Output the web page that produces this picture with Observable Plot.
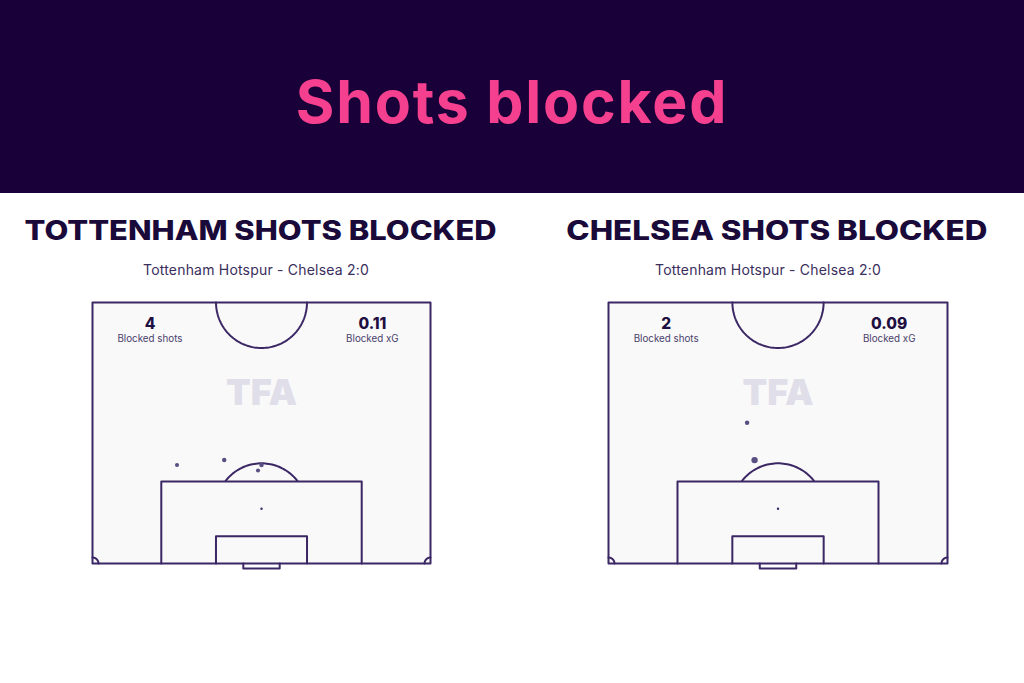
<!DOCTYPE html>
<html>
<head>
<meta charset="utf-8">
<script src="https://cdn.jsdelivr.net/npm/d3@7"></script>
<script src="https://cdn.jsdelivr.net/npm/@observablehq/plot@0.6"></script>
<style>
  html, body { margin: 0; padding: 0; background: #ffffff; }
  body { width: 1024px; height: 683px; position: relative; overflow: hidden; font-family: Inter, "Noto Sans", sans-serif; }
  #header { position: absolute; left: 0; top: 0; width: 1024px; height: 193px; background: #1a0038; }
  #title { position: absolute; left: 0; top: 62px; width: 1024px; text-align: center; color: #f5408f; font-family: Inter, sans-serif; font-weight: 700; font-size: 59px; line-height: 80px; letter-spacing: 1.8px; }
  .panel-title { position: absolute; text-align: center; color: #1a0a3a; font-family: Inter, sans-serif; font-weight: 800; font-size: 26.5px; line-height: 30px; white-space: nowrap; transform-origin: center center; }
  .panel-sub { position: absolute; width: 512px; text-align: center; color: #3a2e5c; font-family: Inter, sans-serif; font-weight: 400; font-size: 14px; line-height: 16px; letter-spacing: 0.2px; white-space: nowrap; }
  .pitch { position: absolute; }
</style>
</head>
<body>
<div id="header"><div id="title">Shots blocked</div></div>
<div id="panels"></div>
<script>
// ---- data ----
const teams = ["TOTTENHAM", "CHELSEA"];
const matchLabel = "Tottenham Hotspur - Chelsea 2:0";
const blockedShots = [4, 2];
const blockedXG = ["0.11", "0.09"];
const statLabels = ["Blocked shots", "Blocked xG"];
// shot locations in metres: x across pitch width (0-68), y distance from goal line
const spursShotX = [17.0, 26.5, 34.0, 33.3];
const spursShotY = [19.8, 20.8, 19.8, 18.7];
const spursShotXG = [0.025, 0.03, 0.03, 0.025];
const chelseaShotX = [27.8, 29.3];
const chelseaShotY = [28.3, 20.8];
const chelseaShotXG = [0.03, 0.06];

// ---- pitch geometry (standard dimensions, metres) ----
const PITCH_W = 68, HALF_L = 52.5, BOX_W = 40.32, BOX_D = 16.5, SIX_W = 18.32, SIX_D = 5.5;
const GOAL_W = 7.32, GOAL_D = 1.0, CIRCLE_R = 9.15, SPOT_D = 11, CORNER_R = 1.2;
const CX = PITCH_W / 2;

const LINE = "#3b2764";
const DOT = "#5a4f82";

function arc(cx, cy, r, a0, a1, id, filter) {
  const n = 80;
  return d3.range(n + 1).map(i => {
    const a = a0 + (a1 - a0) * i / n;
    return {x: cx + r * Math.cos(a), y: cy + r * Math.sin(a), id};
  }).filter(p => !filter || filter(p));
}
function poly(pts, id) { return pts.map(([x, y]) => ({x, y, id})); }

const pitchLines = [
  ...poly([[0, 0], [0, HALF_L], [PITCH_W, HALF_L], [PITCH_W, 0], [0, 0]], "outer"),
  ...poly([[CX - BOX_W / 2, 0], [CX - BOX_W / 2, BOX_D], [CX + BOX_W / 2, BOX_D], [CX + BOX_W / 2, 0]], "box"),
  ...poly([[CX - SIX_W / 2, 0], [CX - SIX_W / 2, SIX_D], [CX + SIX_W / 2, SIX_D], [CX + SIX_W / 2, 0]], "six"),
  ...poly([[CX - GOAL_W / 2, 0], [CX - GOAL_W / 2, -GOAL_D], [CX + GOAL_W / 2, -GOAL_D], [CX + GOAL_W / 2, 0]], "goal"),
  ...arc(CX, HALF_L, CIRCLE_R, Math.PI, 2 * Math.PI, "centre"),
  ...arc(CX, SPOT_D, CIRCLE_R, 0, Math.PI, "parc", p => p.y >= BOX_D),
  ...arc(0, 0, CORNER_R, 0, Math.PI / 2, "c1"),
  ...arc(PITCH_W, 0, CORNER_R, Math.PI / 2, Math.PI, "c2")
];

const panels = [
  {team: teams[0], shots: blockedShots[0], xg: blockedXG[0],
   data: spursShotX.map((x, i) => ({x, y: spursShotY[i], xg: spursShotXG[i]})),
   left: 0, mL: 92, mR: 82, titleCenter: 261, titleWidth: 472},
  {team: teams[1], shots: blockedShots[1], xg: blockedXG[1],
   data: chelseaShotX.map((x, i) => ({x, y: chelseaShotY[i], xg: chelseaShotXG[i]})),
   left: 512, mL: 96, mR: 77, titleCenter: 776.5, titleWidth: 421}
];

const container = document.getElementById("panels");
for (const p of panels) {
  const t = document.createElement("div");
  t.className = "panel-title";
  t.style.top = "215px";
  t.textContent = p.team + " SHOTS BLOCKED";
  container.appendChild(t);
  const w = t.getBoundingClientRect().width;
  t.style.left = (p.titleCenter - w / 2) + "px";
  t.style.transform = `scaleX(${p.titleWidth / w})`;

  const s = document.createElement("div");
  s.className = "panel-sub";
  s.style.left = p.left + "px"; s.style.top = "262px";
  s.textContent = matchLabel;
  container.appendChild(s);

  const statY1 = HALF_L * 0.917, statY2 = HALF_L * 0.86;
  const statX1 = PITCH_W * 0.17, statX2 = PITCH_W * 0.828;

  const chart = Plot.plot({
    width: 512, height: 290,
    marginLeft: p.mL, marginRight: p.mR, marginTop: 12, marginBottom: 17,
    x: {domain: [0, PITCH_W], axis: null},
    y: {domain: [0, HALF_L], axis: null},
    r: {type: "sqrt", domain: [0, 0.1], range: [0, 4.1]},
    style: {background: "transparent", overflow: "visible"},
    marks: [
      Plot.rect([0], {x1: 0, x2: PITCH_W, y1: 0, y2: HALF_L, fill: "#f9f9fa"}),
      Plot.text(["TFA"], {x: CX, y: HALF_L * 0.65, text: d => d, fontSize: 36, fontWeight: 900,
        fill: "#e0dee9", fontFamily: "Inter, sans-serif", letterSpacing: "-1px"}),
      Plot.line(pitchLines, {x: "x", y: "y", z: "id", stroke: LINE, strokeWidth: 2,
        strokeLinejoin: "round", strokeLinecap: "round", curve: "linear"}),
      Plot.dot([0], {x: CX, y: SPOT_D, r: 1.2, fill: LINE, stroke: null}),
      Plot.dot(p.data, {x: "x", y: "y", r: "xg", fill: DOT, stroke: null}),
      Plot.text([p.shots], {x: statX1, y: statY1, text: d => String(d), fontSize: 15.5, fontWeight: 800,
        fill: "#1e0f40", fontFamily: "Inter, sans-serif"}),
      Plot.text([statLabels[0]], {x: statX1, y: statY2, text: d => d, fontSize: 9.8,
        fill: "#4a3f6a", fontFamily: "Inter, sans-serif"}),
      Plot.text([p.xg], {x: statX2, y: statY1, text: d => d, fontSize: 15.5, fontWeight: 800,
        fill: "#1e0f40", fontFamily: "Inter, sans-serif"}),
      Plot.text([statLabels[1]], {x: statX2, y: statY2, text: d => d, fontSize: 9.8,
        fill: "#4a3f6a", fontFamily: "Inter, sans-serif"})
    ]
  });
  chart.classList.add("pitch");
  chart.style.left = p.left + "px";
  chart.style.top = "290px";
  container.appendChild(chart);
}
</script>
</body>
</html>
